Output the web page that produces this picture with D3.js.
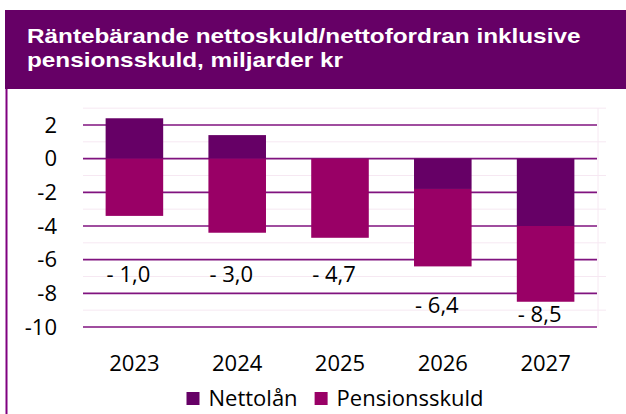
<!DOCTYPE html>
<html>
<head>
<meta charset="utf-8">
<script src="https://cdn.jsdelivr.net/npm/d3@7"></script>
<style>
  body { margin: 0; background: #fff; }
  svg { display: block; }
</style>
</head>
<body>
<div id="chart"></div>
<script>
// Data (miljarder kr)
const years = ["2023", "2024", "2025", "2026", "2027"];
const nettolan = [2.4, 1.4, 0.0, -1.8, -4.0];
const pensionsskuld = [-3.4, -4.4, -4.7, -4.6, -4.5];
// where the total labels sit (in axis units), as placed in the original
const labelAt = [-7.3, -7.3, -7.3, -9.15, -9.7];
const yTicks = [2, 0, -2, -4, -6, -8, -10];
const seriesNames = ["Nettolån", "Pensionsskuld"];
const titleLines = ["Räntebärande nettoskuld/nettofordran inklusive", "pensionsskuld, miljarder kr"];

const width = 626;
const height = 414;
const purple = "#660066";
const colors = { "Nettolån": "#660066", "Pensionsskuld": "#990066" };

const svg = d3.select("#chart").append("svg")
    .attr("width", width)
    .attr("height", height);

// Title band
svg.append("rect")
    .attr("x", 5)
    .attr("y", 10)
    .attr("width", width - 5)
    .attr("height", 79)
    .attr("fill", purple);

// title font is a bit wide in the original, so stretch it horizontally
svg.append("g")
    .attr("transform", "translate(27,0) scale(1.18,1)")
    .selectAll("text")
    .data(titleLines)
    .join("text")
    .attr("x", 0)
    .attr("y", (d, i) => 43 + i * 24)
    .attr("fill", "#fff")
    .style("font-family", "'Liberation Sans', Arial, sans-serif")
    .style("font-weight", "bold")
    .style("font-size", "20.6px")
    .text(d => d);

// Left border of the chart box
svg.append("line")
    .attr("x1", 6.5).attr("x2", 6.5)
    .attr("y1", 89).attr("y2", height)
    .attr("stroke", "#800080")
    .attr("stroke-width", 2);

// Scales
const x = d3.scaleBand()
    .domain(years)
    .range([83, 597])
    .paddingInner(0.44)
    .paddingOuter(0.22);

const y = d3.scaleLinear()
    .domain([-10, 2])
    .range([327, 125]);

const font = "'Open Sans', 'Noto Sans', sans-serif";

// Faint minor grid
svg.append("g")
    .selectAll("line")
    .data(d3.range(-9, 4, 2))
    .join("line")
    .attr("x1", 83).attr("x2", 606)
    .attr("y1", d => y(d)).attr("y2", d => y(d))
    .attr("stroke", "#f6e8f2")
    .attr("stroke-width", 1);

svg.append("line")
    .attr("x1", 598).attr("x2", 598)
    .attr("y1", y(3)).attr("y2", y(-10))
    .attr("stroke", "#f6e8f2");

// Major grid
svg.append("g")
    .selectAll("line")
    .data(yTicks)
    .join("line")
    .attr("x1", 83).attr("x2", 597)
    .attr("y1", d => y(d)).attr("y2", d => y(d))
    .attr("stroke", "#80137f")
    .attr("stroke-width", 1.6);

// Y axis labels (plain hyphen, as in the original)
const yAxis = svg.append("g")
    .attr("transform", "translate(83,0)")
    .call(d3.axisLeft(y).tickValues(yTicks).tickSize(0).tickPadding(26)
        .tickFormat(d => String(d)));
yAxis.select(".domain").remove();
yAxis.selectAll("text")
    .attr("fill", "#000")
    .style("font-family", font)
    .style("font-size", "22px");

// Stacked bars
const table = years.map((yr, i) => ({
    year: yr,
    "Nettolån": nettolan[i],
    "Pensionsskuld": pensionsskuld[i]
}));

const stacked = d3.stack()
    .keys(seriesNames)
    .offset(d3.stackOffsetDiverging)(table);

svg.append("g")
    .selectAll("g")
    .data(stacked)
    .join("g")
    .attr("fill", d => colors[d.key])
    .selectAll("rect")
    .data(d => d)
    .join("rect")
    .attr("x", d => x(d.data.year))
    .attr("width", x.bandwidth())
    .attr("y", d => y(Math.max(d[0], d[1])))
    .attr("height", d => Math.abs(y(d[0]) - y(d[1])));

// Total labels
const fmt = v => {
    const s = Math.abs(v).toFixed(1).replace(".", ",");
    return v < 0 ? "- " + s : s;
};

svg.append("g")
    .selectAll("text")
    .data(table)
    .join("text")
    .attr("x", d => x(d.year) + 1)
    .attr("y", (d, i) => y(labelAt[i]))
    .attr("fill", "#000")
    .style("font-family", font)
    .style("font-size", "22px")
    .text(d => fmt(d["Nettolån"] + d["Pensionsskuld"]));

// X labels
svg.append("g")
    .selectAll("text")
    .data(years)
    .join("text")
    .attr("x", d => x(d) + x.bandwidth() / 2)
    .attr("y", 371)
    .attr("text-anchor", "middle")
    .attr("fill", "#000")
    .style("font-family", font)
    .style("font-size", "22px")
    .text(d => d);

// Legend
const items = svg.append("g")
    .selectAll("g")
    .data(seriesNames)
    .join("g");

items.append("rect")
    .attr("width", 13)
    .attr("height", 13)
    .attr("y", 392)
    .attr("fill", d => colors[d]);

items.append("text")
    .attr("x", 22)
    .attr("y", 406)
    .attr("fill", "#000")
    .style("font-family", font)
    .style("font-size", "22px")
    .text(d => d);

const widths = items.nodes().map(n => n.getBBox().width);
const gap = 17;
let offset = 335 - (d3.sum(widths) + gap * (widths.length - 1)) / 2;
items.attr("transform", (d, i) => {
    const t = `translate(${offset},0)`;
    offset += widths[i] + gap;
    return t;
});
</script>
</body>
</html>
